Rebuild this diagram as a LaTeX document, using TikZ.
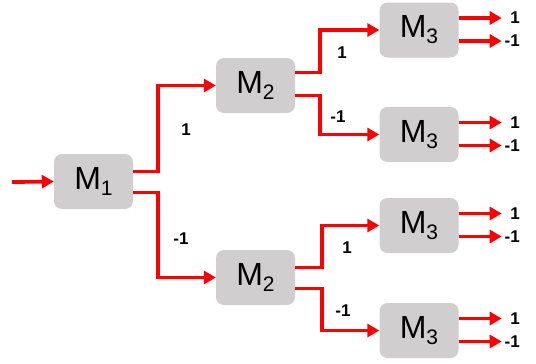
\documentclass[tikz,border=0pt]{standalone}
\usepackage{fontspec}
\setmainfont{Liberation Sans}
\usetikzlibrary{arrows.meta}
\definecolor{boxgray}{RGB}{208,206,206}
\newcommand{\mlab}[1]{M\raisebox{-6pt}{\fontsize{21}{21}\selectfont #1}}
\begin{document}
\begin{tikzpicture}[x=1pt,y=-1pt,
  mbox/.style={fill=boxgray,rounded corners=8pt,minimum width=79pt,minimum height=55pt,inner sep=0pt,font=\fontsize{32}{32}\selectfont},
  conn/.style={draw=red,line width=3.8pt,-{Triangle[length=12pt,width=13pt]},line join=miter},
  lbl/.style={font=\bfseries\fontsize{17}{17}\selectfont,inner sep=0pt},
  outl/.style={font=\bfseries\fontsize{17}{17}\selectfont,inner sep=0pt,anchor=east}]
\useasboundingbox (0,0) rectangle (536,364);
\node[mbox] (m1) at (93.5,181.5) {\mlab{1}};
\node[mbox] (m2a) at (255.5,85.5) {\mlab{2}};
\node[mbox] (m2b) at (255.5,277.5) {\mlab{2}};
\node[mbox] (m3a) at (419,30) {\mlab{3}};
\node[mbox] (m3b) at (419,134.5) {\mlab{3}};
\node[mbox] (m3c) at (419,225.5) {\mlab{3}};
\node[mbox] (m3d) at (419,330.5) {\mlab{3}};
\coordinate (in) at (12,182);
\draw[conn] (in) -- (m1.west);
% M1 outputs
\draw[conn] ([yshift=10pt]m1.east) -- ++(25,0) |- (m2a.west);
\draw[conn] ([yshift=-11pt]m1.east) -- ++(25,0) |- (m2b.west);
% M2 outputs
\draw[conn] ([yshift=13pt]m2a.east) -- ++(25,0) |- (m3a.west);
\draw[conn] ([yshift=-10pt]m2a.east) -- ++(25,0) |- (m3b.west);
\draw[conn] ([yshift=10pt]m2b.east) -- ++(27,0) |- (m3c.west);
\draw[conn] ([yshift=-11pt]m2b.east) -- ++(27,0) |- (m3d.west);
% labels
\node[lbl] (l1) at (186,130) {1};
\node[lbl] (l2) at (181,239) {-1};
\node[lbl] (l3) at (342,53) {1};
\node[lbl] (l4) at (338,117) {-1};
\node[lbl] (l5) at (347,248) {1};
\node[lbl] (l6) at (343,311) {-1};
% M3 outputs
\foreach \m in {m3a,m3b,m3c,m3d}{
  \draw[conn] ([yshift=12pt]\m.east) -- ++(43,0) node[outl,xshift=20pt] (\m p) {1};
  \draw[conn] ([yshift=-11pt]\m.east) -- ++(43,0) node[outl,xshift=20pt] (\m n) {-1};
}
\end{tikzpicture}
\end{document}
